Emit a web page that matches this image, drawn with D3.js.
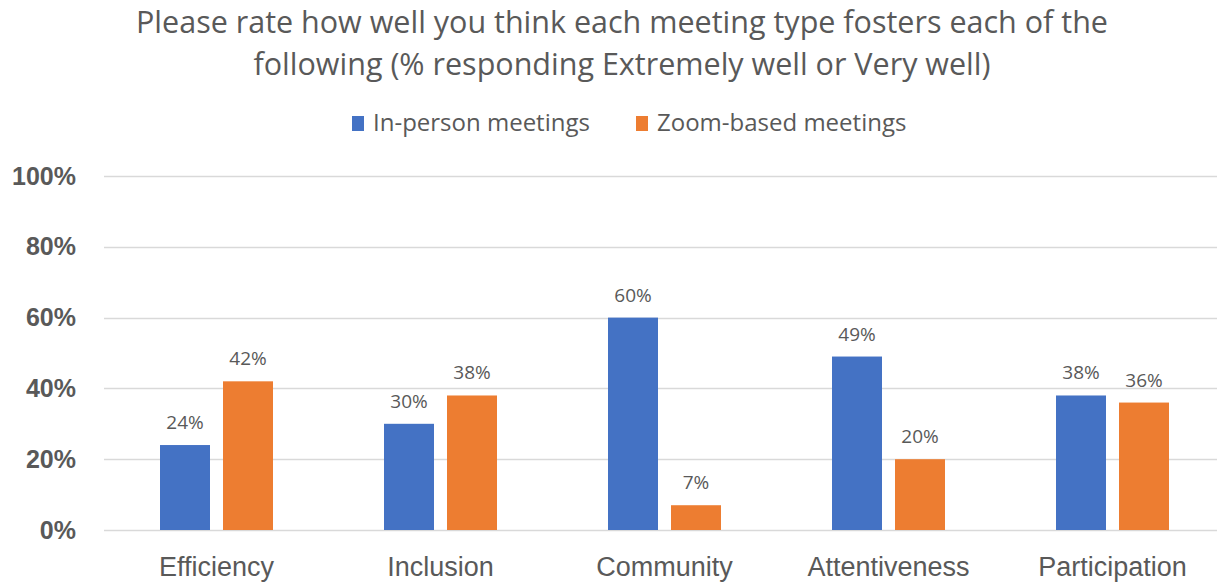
<!DOCTYPE html>
<html>
<head>
<meta charset="utf-8">
<script src="https://cdn.jsdelivr.net/npm/d3@7"></script>
<style>
  html, body { margin: 0; padding: 0; background: #fff; }
  svg { display: block; font-family: "Open Sans", "Noto Sans", sans-serif; }
</style>
</head>
<body>
<svg id="chart"></svg>
<script>
const categories = ['Efficiency', 'Inclusion', 'Community', 'Attentiveness', 'Participation'];
const seriesNames = ['In-person meetings', 'Zoom-based meetings'];
const inPerson = [24, 30, 60, 49, 38];
const zoomBased = [42, 38, 7, 20, 36];
const yTicks = [0, 20, 40, 60, 80, 100];
const colors = ['#4472c4', '#ed7d31'];

const width = 1217, height = 582;
const svg = d3.select('#chart').attr('width', width).attr('height', height);

const x = d3.scaleBand().domain(categories).range([104.5, 1224.5]).paddingInner(0).paddingOuter(0);
const xInner = d3.scaleBand().domain(seriesNames).range([55.5, 168.5]).paddingInner(0.2063);
const y = d3.scaleLinear().domain([0, 100]).range([530, 176]);

// gridlines
svg.append('g')
  .selectAll('line')
  .data(yTicks)
  .enter()
  .append('line')
  .attr('x1', 104)
  .attr('x2', width)
  .attr('y1', d => Math.round(y(d)) + 0.5)
  .attr('y2', d => Math.round(y(d)) + 0.5)
  .attr('stroke', '#d9d9d9')
  .attr('stroke-width', 1.5);

// y axis labels
const yAxis = d3.axisLeft(y).tickValues(yTicks).tickFormat(d => d + '%').tickSize(0).tickPadding(0);
svg.append('g')
  .attr('transform', 'translate(76,0)')
  .call(yAxis)
  .call(g => g.select('.domain').remove())
  .selectAll('text')
  .attr('fill', '#595959')
  .style('font-size', '25px')
  .style('font-weight', 'bold');

// x axis labels
const xAxis = d3.axisBottom(x).tickSize(0).tickPadding(0);
svg.append('g')
  .attr('transform', 'translate(0,557)')
  .call(xAxis)
  .call(g => g.select('.domain').remove())
  .selectAll('text')
  .attr('fill', '#595959')
  .style('font-size', '27px');

// bars
const rows = categories.map((c, i) => ({ category: c, values: [inPerson[i], zoomBased[i]] }));

const groups = svg.append('g')
  .selectAll('g')
  .data(rows)
  .enter()
  .append('g')
  .attr('transform', d => `translate(${x(d.category)},0)`);

groups.selectAll('rect')
  .data(d => d.values.map((v, j) => ({ name: seriesNames[j], value: v, j: j })))
  .enter()
  .append('rect')
  .attr('x', d => xInner(d.name))
  .attr('width', xInner.bandwidth())
  .attr('y', d => y(d.value))
  .attr('height', d => y(0) - y(d.value))
  .attr('fill', d => colors[d.j]);

groups.selectAll('text')
  .data(d => d.values.map((v, j) => ({ name: seriesNames[j], value: v })))
  .enter()
  .append('text')
  .attr('x', d => xInner(d.name) + xInner.bandwidth() / 2)
  .attr('y', d => y(d.value) - 16)
  .attr('text-anchor', 'middle')
  .attr('fill', '#595959')
  .style('font-size', '19px')
  .text(d => d.value + '%');

// title
const title = ['Please rate how well you think each meeting type fosters each of the',
               'following (% responding Extremely well or Very well)'];
svg.append('text')
  .attr('text-anchor', 'middle')
  .attr('fill', '#595959')
  .style('font-size', '30.5px')
  .selectAll('tspan')
  .data(title)
  .enter()
  .append('tspan')
  .attr('x', 622)
  .attr('y', (d, i) => 33 + i * 42)
  .text(d => d);

// legend
const legendX = [352, 636];
const legend = svg.append('g')
  .selectAll('g')
  .data(seriesNames)
  .enter()
  .append('g')
  .attr('transform', (d, i) => `translate(${legendX[i]},0)`);

legend.append('rect')
  .attr('x', 0)
  .attr('y', 116)
  .attr('width', 12)
  .attr('height', 15)
  .attr('fill', (d, i) => colors[i]);

legend.append('text')
  .attr('x', 21)
  .attr('y', 131)
  .attr('fill', '#595959')
  .style('font-size', '24px')
  .text(d => d);
</script>
</body>
</html>
